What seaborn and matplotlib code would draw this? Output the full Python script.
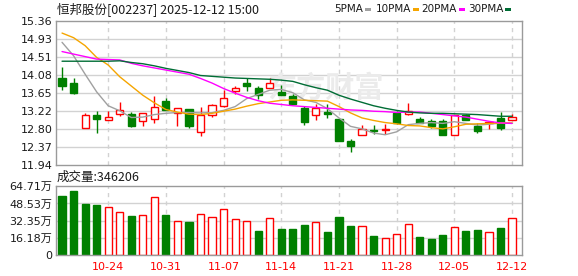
import numpy as np
import pandas as pd
import matplotlib
matplotlib.use("Agg")
import matplotlib.pyplot as plt
from matplotlib.patches import Rectangle
import seaborn as sns

# ---------------- data ----------------
dates = ["10-20", "10-21", "10-22", "10-23", "10-24",
         "10-27", "10-28", "10-29", "10-30", "10-31",
         "11-03", "11-04", "11-05", "11-06", "11-07",
         "11-10", "11-11", "11-12", "11-13", "11-14",
         "11-17", "11-18", "11-19", "11-20", "11-21",
         "11-24", "11-25", "11-26", "11-27", "11-28",
         "12-01", "12-02", "12-03", "12-04", "12-05",
         "12-08", "12-09", "12-10", "12-11", "12-12"]

open_ = [14.01, 13.89, 12.83, 13.13, 13.00, 13.15, 13.16, 12.98, 13.03, 13.47,
         13.18, 13.27, 12.72, 13.14, 13.34, 13.70, 13.89, 13.77, 13.77, 13.68,
         13.58, 13.30, 13.12, 13.19, 13.04, 12.50, 12.66, 12.77, 12.78, 13.18,
         13.15, 13.04, 12.99, 12.99, 12.65, 13.12, 12.87, 12.94, 13.05, 13.01]
high = [14.28, 14.01, 13.17, 13.23, 13.22, 13.43, 13.20, 13.18, 13.58, 13.54,
        13.30, 13.27, 13.32, 13.39, 13.73, 13.83, 14.00, 13.82, 14.01, 13.85,
        13.63, 13.34, 13.39, 13.39, 13.04, 12.56, 12.89, 12.89, 12.92, 13.22,
        13.42, 13.08, 13.04, 13.04, 13.14, 13.16, 12.93, 12.97, 13.20, 13.16]
low = [13.73, 13.63, 12.81, 12.70, 13.00, 13.10, 12.85, 12.88, 12.95, 13.26,
       12.88, 12.83, 12.64, 13.08, 13.32, 13.62, 13.69, 13.51, 13.77, 13.61,
       13.39, 12.90, 13.00, 13.05, 12.50, 12.26, 12.66, 12.68, 12.68, 12.92,
       13.14, 12.94, 12.82, 12.66, 12.65, 13.02, 12.70, 12.79, 12.78, 13.01]
close = [13.83, 13.66, 13.12, 13.04, 13.08, 13.24, 12.88, 13.17, 13.32, 13.26,
         13.30, 12.88, 13.12, 13.37, 13.53, 13.77, 13.81, 13.61, 13.88, 13.61,
         13.39, 12.97, 13.30, 13.15, 12.50, 12.40, 12.79, 12.74, 12.79, 12.94,
         13.22, 12.94, 12.88, 12.66, 13.14, 13.02, 12.74, 12.97, 12.82, 13.08]

# volume in 万 (10k shares)
volume = [55.6, 60.3, 48.0, 47.1, 44.9, 40.2, 36.7, 37.4, 54.4, 37.7,
          31.7, 31.1, 38.3, 35.5, 43.0, 33.6, 31.7, 22.6, 34.6, 24.5,
          24.5, 28.3, 30.8, 21.7, 35.8, 27.3, 27.0, 17.9, 15.7, 19.5,
          28.9, 17.0, 15.1, 18.8, 26.1, 22.6, 23.6, 21.4, 25.4, 34.62]

ma5 = [14.86, 14.54, 14.10, 13.68, 13.35, 13.23, 13.07, 13.08, 13.14, 13.17,
       13.19, 13.19, 13.18, 13.19, 13.24, 13.33, 13.52, 13.62, 13.72, 13.74,
       13.66, 13.49, 13.43, 13.28, 13.06, 12.86, 12.80, 12.70, 12.66, 12.73,
       12.90, 12.93, 12.95, 12.93, 12.97, 12.93, 12.89, 12.91, 12.94, 12.93]
ma10 = [15.08, 14.97, 14.78, 14.50, 14.32, 14.04, 13.82, 13.60, 13.42, 13.26,
        13.20, 13.15, 13.14, 13.17, 13.22, 13.27, 13.34, 13.40, 13.44, 13.48,
        13.49, 13.48, 13.47, 13.46, 13.33, 13.18, 13.06, 13.00, 12.95, 12.92,
        12.88, 12.87, 12.83, 12.80, 12.85, 12.91, 12.92, 12.93, 12.94, 12.94]
ma20 = [14.64, 14.58, 14.52, 14.46, 14.45, 14.44, 14.36, 14.30, 14.25, 14.20,
        14.15, 14.10, 14.00, 13.89, 13.76, 13.65, 13.55, 13.47, 13.41, 13.38,
        13.35, 13.33, 13.31, 13.29, 13.27, 13.25, 13.24, 13.22, 13.21, 13.19,
        13.20, 13.20, 13.17, 13.14, 13.11, 13.08, 13.03, 12.98, 12.94, 12.93]
ma30 = [14.41, 14.41, 14.41, 14.41, 14.41, 14.42, 14.38, 14.35, 14.30, 14.24,
        14.19, 14.14, 14.07, 14.05, 14.03, 14.01, 14.00, 13.99, 13.98, 13.96,
        13.93, 13.85, 13.78, 13.72, 13.60, 13.51, 13.43, 13.35, 13.29, 13.24,
        13.20, 13.18, 13.17, 13.17, 13.16, 13.15, 13.14, 13.12, 13.10, 13.10]

price_ticks = ["11.94", "12.37", "12.80", "13.22", "13.65", "14.08", "14.51", "14.93", "15.36"]
vol_ticks = ["0", "16.18万", "32.35万", "48.53万", "64.71万"]
date_ticks = ["10-24", "10-31", "11-07", "11-14", "11-21", "11-28", "12-05", "12-12"]
ma_names = ["5PMA", "10PMA", "20PMA", "30PMA"]
title = "恒邦股份[002237] 2025-12-12 15:00"
vol_title = "成交量:346206"

# ---------------- style ----------------
sns.set_theme(style="white")
plt.rcParams["font.family"] = ["DejaVu Sans", "Noto Sans CJK SC"]

RED = "#ff0000"
GREEN = "#008000"
ma_colors = {"5PMA": "#a0a0a0", "10PMA": "#f5a500", "20PMA": "#ff00ff", "30PMA": "#006d35"}
GRID = "#d2d2d2"
SPINE = "#9a9a9a"

W, H = 578, 276
fig = plt.figure(figsize=(W / 100, H / 100), dpi=100)
fig.patch.set_facecolor("white")

def fx(px):
    return px / W

def fy(py):
    return 1 - py / H

ax = fig.add_axes([fx(55.7), fy(165), fx(522) - fx(55.7), fy(21.3) - fy(165)])
axv = fig.add_axes([fx(55.7), fy(255), fx(522) - fx(55.7), fy(186.3) - fy(255)])

n = len(dates)
x = np.arange(n)
xlim = (-0.55, 39.86)
tick_idx = [dates.index(d) for d in date_ticks]

for a in (ax, axv):
    a.set_facecolor("white")
    a.set_xlim(*xlim)
    for s in a.spines.values():
        s.set_color(SPINE)
        s.set_linewidth(1)
    for t in tick_idx:
        a.axvline(t, color=GRID, lw=1, ls=(0, (3, 3)), zorder=0.5)
    a.tick_params(axis="both", length=0, pad=2.5, labelsize=8, colors="#1a1a1a")

# price panel
pvals = [float(v) for v in price_ticks]
ax.set_ylim(pvals[0], pvals[-1])
ax.set_yticks(pvals)
ax.set_yticklabels(price_ticks)
for v in pvals[1:-1]:
    ax.axhline(v, color=GRID, lw=1, zorder=0.5)
ax.set_xticks([])

# watermark
ax.text(22.8, 13.78, "东方财富", family=["Noto Sans CJK SC"], fontsize=21,
        color="#ebebeb", ha="center", va="center", zorder=0.6, fontweight="bold")

df = pd.DataFrame({"x": x, "open": open_, "high": high, "low": low, "close": close, "vol": volume})
up = df["close"] >= df["open"]
body_w = 0.62
for i, r in df.iterrows():
    c = RED if up[i] else GREEN
    ax.vlines(r["x"], r["low"], r["high"], color=c, lw=1, zorder=2)
    bot = min(r["open"], r["close"])
    h = max(abs(r["close"] - r["open"]), 0.004)
    ax.bar(r["x"], h, bottom=bot, width=body_w,
           facecolor=("white" if up[i] else GREEN), edgecolor=c, linewidth=1, zorder=2.5)

ma_df = pd.DataFrame({"x": np.tile(x, 4),
                      "val": ma5 + ma10 + ma20 + ma30,
                      "name": np.repeat(ma_names, n)})
sns.lineplot(data=ma_df, x="x", y="val", hue="name", palette=ma_colors,
             linewidth=1, legend=False, ax=ax, zorder=3)
ax.set_xlabel("")
ax.set_ylabel("")
ax.set_xlim(*xlim)
ax.set_ylim(pvals[0], pvals[-1])

# volume panel
vvals = [0, 16.18, 32.35, 48.53, 64.71]
axv.set_ylim(0, 64.71)
axv.set_yticks(vvals)
axv.set_yticklabels(vol_ticks)
for v in vvals[1:-1]:
    axv.axhline(v, color=GRID, lw=1, zorder=0.5)
prev = [np.nan] + close[:-1]
vol_up = [(i == 0 and close[i] >= open_[i]) or (i > 0 and close[i] >= prev[i]) for i in range(n)]
for i in range(n):
    c = RED if vol_up[i] else GREEN
    axv.bar(x[i], volume[i], width=body_w, facecolor=("white" if vol_up[i] else GREEN),
            edgecolor=c, linewidth=1, zorder=2)
axv.set_xticks(tick_idx)
axv.set_xticklabels(date_ticks)
axv.tick_params(axis="x", colors=RED, pad=5)
axv.tick_params(axis="y", colors="#1a1a1a")

# titles
fig.text(fx(57), fy(9.5), title, family=["Noto Sans CJK SC"], fontsize=9,
         color="#1a1a1a", ha="left", va="center")
fig.text(fx(57), fy(177.5), vol_title, family=["Noto Sans CJK SC"], fontsize=9,
         color="#1a1a1a", ha="left", va="center")

# legend
marker_x = [365, 413, 459, 505.3]
for name, mx in zip(ma_names, marker_x):
    fig.text(fx(mx - 2), fy(9.5), name, fontsize=7.5, color="#1a1a1a", ha="right", va="center")
    fig.add_artist(Rectangle((fx(mx), fy(10.8)), 6 / W, 3 / H, transform=fig.transFigure,
                             facecolor=ma_colors[name], edgecolor="none"))

fig.savefig("out.png", dpi=100, facecolor="white")
